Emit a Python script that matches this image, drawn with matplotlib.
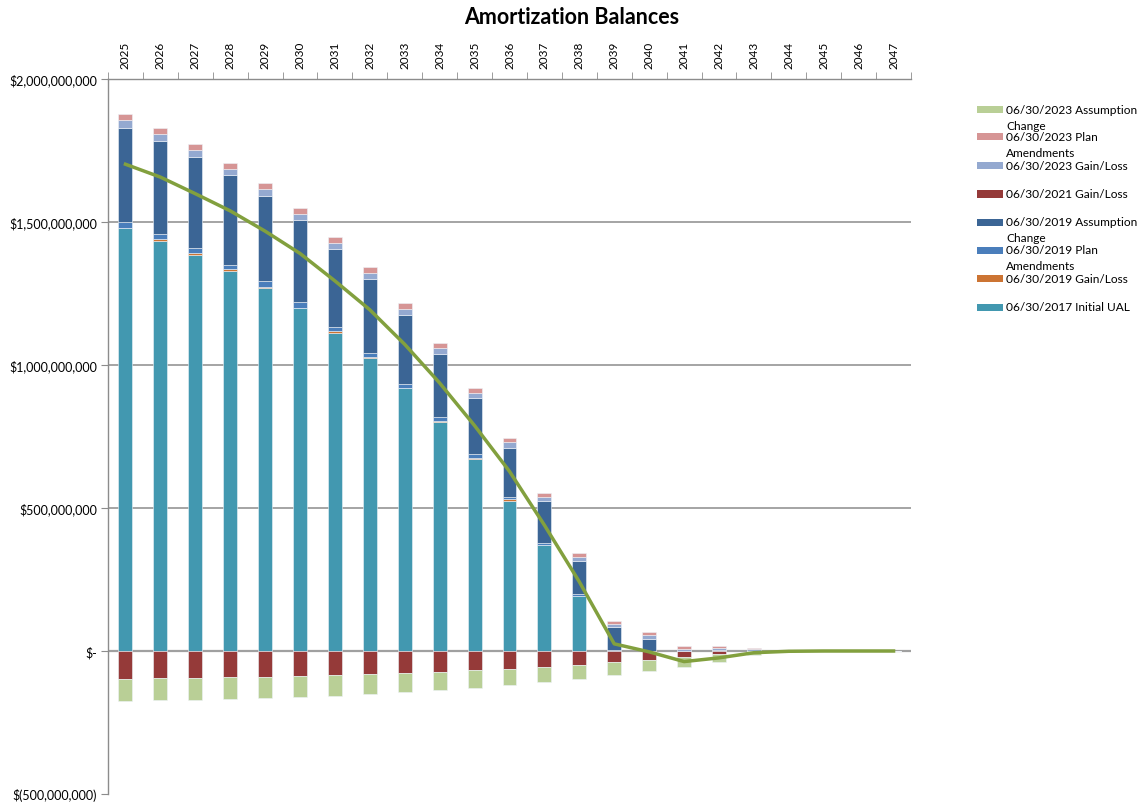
import matplotlib
matplotlib.use("Agg")
import matplotlib.pyplot as plt
import numpy as np
from matplotlib.patches import Rectangle
from matplotlib.ticker import FuncFormatter, FixedLocator

plt.rcParams['font.family'] = ['Lato', 'DejaVu Sans']

years = [str(y) for y in range(2025, 2048)]

# values in $ millions
initial_ual_2017 = [1478, 1434, 1385, 1330, 1270, 1198, 1113, 1024, 918, 801, 672, 526, 370, 193, 0, 0, 0, 0, 0, 0, 0, 0, 0]
gain_loss_2019 = [2, 5, 5, 5, 2, 2, 5, 3, 2, 3, 2, 4, 2, 1, 0, 0, 0, 0, 0, 0, 0, 0, 0]
plan_amend_2019 = [20, 18, 18, 16, 20, 22, 16, 16, 14, 14, 14, 8, 7, 6, 5, 0, 0, 0, 0, 0, 0, 0, 0]
assump_2019 = [330, 327, 321, 313, 298, 284, 271, 257, 242, 219, 196, 173, 145, 113, 78, 42, 0, 3, 0, 0, 0, 0, 0]
gain_loss_2021 = [-98, -95, -95, -91, -91, -88, -84, -81, -77, -74, -68, -64, -57, -49, -40, -33, -21, -12, 0, 0, 0, 0, 0]
gain_loss_2023 = [26, 22, 22, 20, 25, 21, 21, 20, 19, 22, 18, 19, 16, 15, 12, 14, 8, 7, 6, 0, 0, 0, 0]
plan_amend_2023 = [23, 21, 21, 22, 20, 22, 21, 21, 21, 18, 18, 15, 14, 14, 11, 11, 9, 7, 3, 5, 0, 0, 0]
assump_2023 = [-76, -77, -77, -77, -74, -74, -74, -70, -67, -63, -63, -55, -51, -49, -44, -38, -35, -25, -13, -3, 0, 0, 0]
net_total = [1702, 1657, 1599, 1539, 1468, 1390, 1294, 1193, 1072, 937, 788, 628, 440, 242, 25, -3, -37, -24, -6, -1, 0, 0, 0]

series = [
    ("06/30/2017 Initial UAL", initial_ual_2017, "#4298B0"),
    ("06/30/2019 Gain/Loss", gain_loss_2019, "#CC7433"),
    ("06/30/2019 Plan\nAmendments", plan_amend_2019, "#4A7EBB"),
    ("06/30/2019 Assumption\nChange", assump_2019, "#3B6595"),
    ("06/30/2021 Gain/Loss", gain_loss_2021, "#953A39"),
    ("06/30/2023 Gain/Loss", gain_loss_2023, "#94A9D0"),
    ("06/30/2023 Plan\nAmendments", plan_amend_2023, "#D69595"),
    ("06/30/2023 Assumption\nChange", assump_2023, "#B9CF96"),
]

W, H = 1143, 804
fig = plt.figure(figsize=(W / 100, H / 100), dpi=100)
ax = fig.add_axes([108 / W, 1 - 795 / H, (911 - 108) / W, (795 - 80) / H])

x = np.arange(len(years))
pos_base = np.zeros(len(years))
neg_base = np.zeros(len(years))
for label, vals, color in series:
    v = np.array(vals, dtype=float) * 1e6
    bottoms = np.where(v >= 0, pos_base, neg_base)
    ax.bar(x, v, width=0.4, bottom=bottoms, color=color, edgecolor='#eef3f8',
           linewidth=0.4, zorder=2)
    pos_base = pos_base + np.where(v >= 0, v, 0)
    neg_base = neg_base + np.where(v < 0, v, 0)

ax.plot(x, np.array(net_total) * 1e6, color='#82A03E', linewidth=2.5, zorder=4,
        solid_joinstyle='round')

ax.set_xlim(-0.5, len(years) - 0.5)
ax.set_ylim(-500e6, 2000e6)

yt = [-500e6, 0, 500e6, 1000e6, 1500e6, 2000e6]
ax.set_yticks(yt)

def fmt(v, p):
    if v == 0:
        return "$-"
    if v < 0:
        return "$({:,.0f})".format(-v)
    return "${:,.0f}".format(v)

ax.yaxis.set_major_formatter(FuncFormatter(fmt))
for g in [500e6, 1000e6, 1500e6]:
    ax.axhline(g, color='#8c8c8c', linewidth=1.1, zorder=1)
ax.axhline(0, color='#a0a0a0', linewidth=1.6, zorder=1)

ax.xaxis.tick_top()
ax.set_xticks(x)
ax.set_xticklabels(years, rotation=90, fontsize=8.5)
ax.xaxis.set_minor_locator(FixedLocator(np.arange(-0.5, len(years), 1.0)))
ax.tick_params(axis='x', which='major', length=0, pad=8, top=True, bottom=False,
               labeltop=True, labelbottom=False)
ax.tick_params(axis='x', which='minor', length=5, color='#8c8c8c', top=True, bottom=False,
               direction='out')
ax.tick_params(axis='y', length=5, color='#8c8c8c', labelsize=9, pad=3)

for s in ['right', 'bottom']:
    ax.spines[s].set_visible(False)
for s in ['left', 'top']:
    ax.spines[s].set_color('#8c8c8c')
    ax.spines[s].set_linewidth(1.0)

fig.text(0.5, 1 - 18 / H, "Amortization Balances", ha='center', va='center',
         fontsize=15.5, fontweight='bold')

# legend (reverse series order, Excel style)
leg_y = [110, 137.7, 166, 195, 223, 251, 279.3, 308]
for (label, vals, color), yc in zip(series[::-1], leg_y):
    fig.patches.append(Rectangle((977 / W, 1 - (yc + 3.5) / H), 26 / W, 7 / H,
                                 transform=fig.transFigure, facecolor=color,
                                 edgecolor='none'))
    for i, line in enumerate(label.split("\n")):
        fig.text(1006 / W, 1 - (yc + 16 * i) / H, line, ha='left', va='center',
                 fontsize=8.6)

fig.savefig("out.png", dpi=100)
